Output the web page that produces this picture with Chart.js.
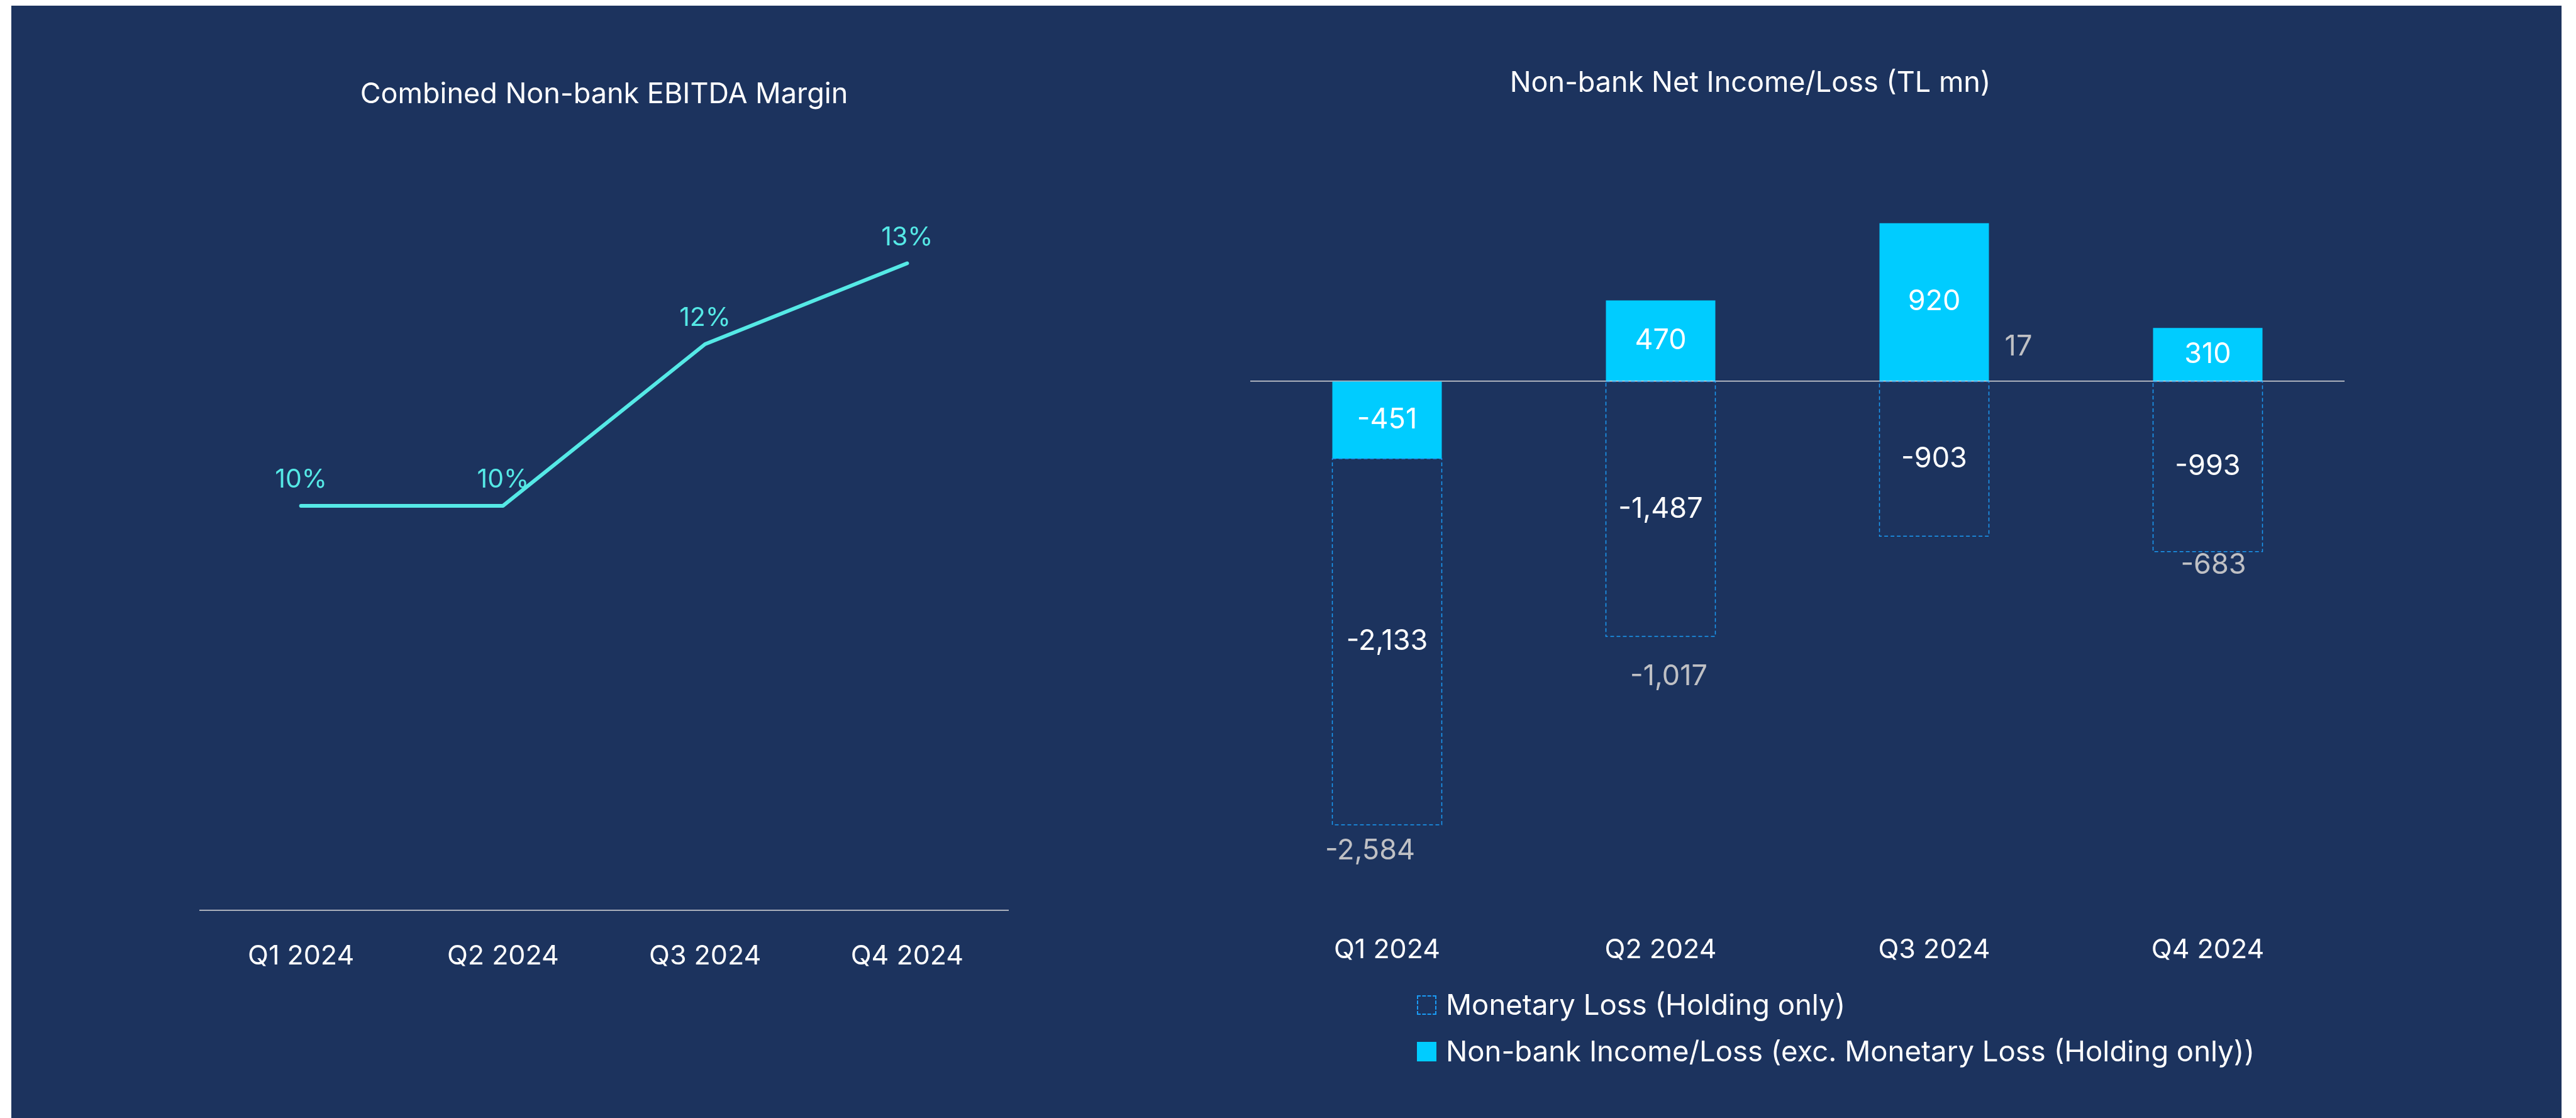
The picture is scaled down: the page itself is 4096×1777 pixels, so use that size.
<!DOCTYPE html>
<html>
<head>
<meta charset="utf-8">
<title>Non-bank results 2024</title>
<script src="https://cdn.jsdelivr.net/npm/chart.js@4.4.1/dist/chart.umd.min.js"></script>
<style>
  html, body { margin: 0; padding: 0; background: #ffffff; }
  body { width: 4096px; height: 1777px; position: relative; overflow: hidden; font-family: Inter, "Noto Sans", sans-serif; }
  #panel { position: absolute; left: 18px; top: 9px; width: 4055px; height: 1768px; background: #1c335e; }
  canvas { position: absolute; left: 0; top: 0; }
  #legend { position: absolute; left: 2253px; top: 1572px; margin: 0; padding: 0; list-style: none; color: #ffffff; font-size: 45.5px; }
  #legend li { display: flex; align-items: center; height: 50px; line-height: 50px; margin-bottom: 24px; white-space: nowrap; }
  .swatch { width: 31px; height: 31px; margin-right: 15px; box-sizing: border-box; flex: none; }
</style>
</head>
<body>
<div id="panel"></div>
<canvas id="margin-chart" width="4096" height="1777"></canvas>
<canvas id="income-chart" width="4096" height="1777"></canvas>
<ul id="legend"></ul>

<script>
const quarters = ["Q1 2024", "Q2 2024", "Q3 2024", "Q4 2024"];

// Combined non-bank EBITDA margin, %
const ebitdaMargin = [10, 10, 12, 13];

// Non-bank net income/loss, TL mn
const incomeExMonetary = [-451, 470, 920, 310];
const monetaryLoss = [-2133, -1487, -903, -993];
const netTotal = [-2584, -1017, 17, -683];

const incomeLabel = "Non-bank Income/Loss (exc. Monetary Loss (Holding only))";
const monetaryLabel = "Monetary Loss (Holding only)";

// where each net total label sits, relative to its value on the axis
const totalLabelShift = [[-27, 42], [13, 192], [134, -50], [9, 106]];

const fontFamily = "Inter, 'Noto Sans', sans-serif";
const lineColor = "#55e9e6";
const barColor = "#00ccff";
const dashColor = "#1a9bf5";
const axisColor = "#d9d9d9";

Chart.defaults.font.family = fontFamily;

function formatValue(value) {
  return value.toLocaleString("en-US");
}

const pointLabels = {
  id: "pointLabels",
  afterDatasetsDraw(chart) {
    const { ctx } = chart;
    const dataset = chart.data.datasets[0];
    ctx.save();
    ctx.font = `41px ${fontFamily}`;
    ctx.fillStyle = lineColor;
    ctx.textAlign = "center";
    ctx.textBaseline = "middle";
    chart.getDatasetMeta(0).data.forEach((point, i) => {
      ctx.fillText(`${dataset.data[i]}%`, point.x, point.y - 41);
    });
    ctx.restore();
  }
};

// bars can't take a dashed border, so outline the monetary loss stack by hand
const dashedOutline = {
  id: "dashedOutline",
  afterDatasetsDraw(chart) {
    const { ctx } = chart;
    ctx.save();
    ctx.setLineDash([6, 4]);
    ctx.lineWidth = 1.5;
    ctx.strokeStyle = dashColor;
    chart.getDatasetMeta(1).data.forEach((bar) => {
      const { x, y, base, width } = bar.getProps(["x", "y", "base", "width"], true);
      ctx.strokeRect(x - width / 2, Math.min(y, base), width, Math.abs(base - y));
    });
    ctx.restore();
  }
};

const barLabels = {
  id: "barLabels",
  afterDatasetsDraw(chart) {
    const { ctx } = chart;
    ctx.save();
    ctx.font = `45px ${fontFamily}`;
    ctx.textAlign = "center";
    ctx.textBaseline = "middle";
    ctx.fillStyle = "#ffffff";
    chart.data.datasets.forEach((dataset, i) => {
      chart.getDatasetMeta(i).data.forEach((bar, j) => {
        const { x, y, base } = bar.getProps(["x", "y", "base"], true);
        ctx.fillText(formatValue(dataset.data[j]), x, (y + base) / 2);
      });
    });

    const xScale = chart.scales.x;
    const yScale = chart.scales.y;
    ctx.fillStyle = "#bfc0c4";
    netTotal.forEach((value, j) => {
      const [dx, dy] = totalLabelShift[j];
      ctx.fillText(formatValue(value), xScale.getPixelForValue(j) + dx, yScale.getPixelForValue(value) + dy);
    });
    ctx.restore();
  }
};

new Chart(document.getElementById("margin-chart"), {
  type: "line",
  data: {
    labels: quarters,
    datasets: [
      {
        label: "EBITDA margin",
        data: ebitdaMargin,
        borderColor: lineColor,
        borderWidth: 6,
        borderCapStyle: "round",
        borderJoinStyle: "round",
        pointRadius: 0,
        tension: 0,
        clip: false
      }
    ]
  },
  options: {
    responsive: false,
    animation: false,
    layout: {
      // the x axis reserves twice its tick padding
      padding: { left: 318, right: 2493, top: 123, bottom: 183 }
    },
    plugins: {
      legend: { display: false },
      tooltip: { enabled: false },
      title: {
        display: true,
        text: "Combined Non-bank EBITDA Margin",
        color: "#ffffff",
        font: { size: 45, weight: "normal" },
        padding: { top: 0, bottom: 113 }
      }
    },
    scales: {
      x: {
        offset: true,
        grid: { display: false, drawTicks: false },
        border: { color: axisColor, width: 1.5 },
        ticks: { color: "#ffffff", font: { size: 43 }, padding: 48 }
      },
      y: {
        display: false,
        min: 5,
        max: 14
      }
    }
  },
  plugins: [pointLabels]
});

const incomeChart = new Chart(document.getElementById("income-chart"), {
  type: "bar",
  data: {
    labels: quarters,
    datasets: [
      {
        label: incomeLabel,
        data: incomeExMonetary,
        backgroundColor: barColor,
        stack: "net",
        barPercentage: 0.4,
        categoryPercentage: 1
      },
      {
        label: monetaryLabel,
        data: monetaryLoss,
        backgroundColor: "rgba(0, 0, 0, 0)",
        stack: "net",
        barPercentage: 0.4,
        categoryPercentage: 1
      }
    ]
  },
  options: {
    responsive: false,
    animation: false,
    layout: {
      padding: { left: 1838, right: 368, top: 105, bottom: 181 }
    },
    plugins: {
      legend: { display: false },
      tooltip: { enabled: false },
      title: {
        display: true,
        text: "Non-bank Net Income/Loss (TL mn)",
        color: "#ffffff",
        font: { size: 45, weight: "normal" },
        padding: { top: 0, bottom: 174 }
      }
    },
    scales: {
      x: {
        stacked: true,
        grid: { display: false, drawTicks: false },
        border: { display: false },
        ticks: { color: "#ffffff", font: { size: 43 }, padding: 60 }
      },
      y: {
        stacked: true,
        min: -3000,
        max: 1000,
        z: 1,
        border: { display: false },
        ticks: { display: false, stepSize: 500 },
        grid: {
          drawTicks: false,
          lineWidth: 1.5,
          color: (context) => (context.tick && context.tick.value === 0 ? axisColor : "rgba(0, 0, 0, 0)")
        },
        afterFit(scale) {
          scale.width = 150;
        }
      }
    }
  },
  plugins: [dashedOutline, barLabels]
});

function renderLegend(chart) {
  const legend = document.getElementById("legend");
  legend.innerHTML = chart.data.datasets
    .slice()
    .reverse()
    .map((dataset) => {
      const swatchStyle = dataset.label === monetaryLabel
        ? `border: 2px dashed ${dashColor};`
        : `background: ${dataset.backgroundColor};`;
      return `<li><span class="swatch" style="${swatchStyle}"></span>${dataset.label}</li>`;
    })
    .join("");
}

renderLegend(incomeChart);
</script>
</body>
</html>
